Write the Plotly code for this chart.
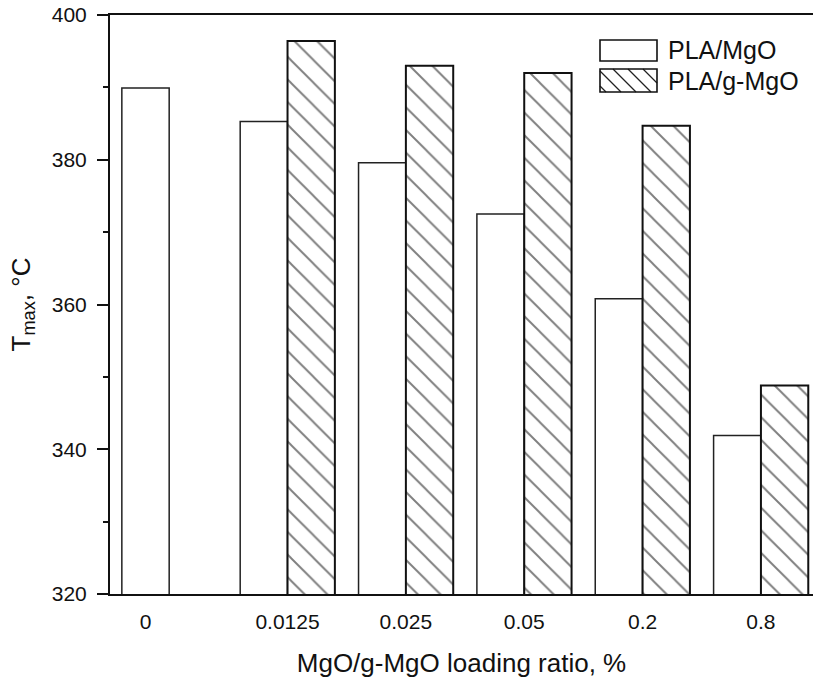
import plotly.graph_objects as go

# Loading ratios (%) and peak degradation temperatures (°C)
loading = ["0", "0.0125", "0.025", "0.05", "0.2", "0.8"]
pla_mgo = [389.9, 385.3, 379.6, 372.5, 360.8, 341.9]
pla_gmgo = [None, 396.4, 393.0, 392.0, 384.7, 348.8]

W, H = 813, 682
M_L, M_R, M_T, M_B = 110, 0, 15, 88
FONT = "Liberation Sans, Arial, sans-serif"
BAR_W = 0.4

pos = list(range(len(loading)))
# a category with only one bar gets its label under that bar
tick_pos = [p - BAR_W / 2 if g is None else p for p, g in zip(pos, pla_gmgo)]

fig = go.Figure()
fig.add_trace(go.Bar(
    x=pos, y=pla_mgo, name="PLA/MgO", width=BAR_W, offset=-BAR_W,
    marker=dict(color="white", line=dict(color="#222", width=1.5)),
    showlegend=False,
))
fig.add_trace(go.Bar(
    x=pos, y=pla_gmgo, name="PLA/g-MgO", width=BAR_W, offset=0,
    marker=dict(color="white", line=dict(color="#111", width=2),
                pattern=dict(shape="\\", size=16, solidity=0.12,
                             fgcolor="#000", bgcolor="white")),
    showlegend=False,
))

# ---- hand-drawn legend (pixel positions converted to paper units) ----
PW = W - M_L - M_R
PH = H - M_T - M_B


def px(x):
    return (x - M_L) / PW


def py(y):
    return (H - M_B - y) / PH


shapes = []
boxes = [(600, 40, 657, 61, "PLA/MgO", False),
         (600, 69, 657, 92, "PLA/g-MgO", True)]
annotations = []
for x0, y0, x1, y1, label, hatched in boxes:
    if hatched:
        step = 15
        hgt = y1 - y0
        c = x0 - hgt + 6
        while c < x1:
            t0 = max(0, x0 - c)
            t1 = min(hgt, x1 - c)
            if t1 > t0:
                shapes.append(dict(type="line", xref="paper", yref="paper",
                                   x0=px(c + t0), y0=py(y0 + t0),
                                   x1=px(c + t1), y1=py(y0 + t1),
                                   line=dict(color="#222", width=1.2)))
            c += step
    shapes.append(dict(type="rect", xref="paper", yref="paper",
                       x0=px(x0), y0=py(y0), x1=px(x1), y1=py(y1),
                       line=dict(color="#111", width=1.6)))
    annotations.append(dict(text=label, xref="paper", yref="paper",
                            x=px(x1 + 9), y=py((y0 + y1) / 2),
                            xanchor="left", yanchor="middle", showarrow=False,
                            font=dict(family=FONT, size=25, color="#111")))

fig.update_layout(
    width=W, height=H,
    margin=dict(l=M_L, r=M_R, t=M_T, b=M_B, pad=0),
    paper_bgcolor="white", plot_bgcolor="white",
    font=dict(family=FONT, color="#111"),
    barmode="overlay",
    shapes=shapes, annotations=annotations,
    xaxis=dict(
        range=[-0.5, 5.44], tickvals=tick_pos, ticktext=loading,
        ticks="", showgrid=False, zeroline=False,
        showline=True, linecolor="#111", linewidth=2, mirror=True,
        tickfont=dict(family=FONT, size=21, color="#111"),
        ticklabelstandoff=8,
        title=dict(text="MgO/g-MgO loading ratio, %", standoff=22,
                   font=dict(family=FONT, size=26, color="#111")),
    ),
    yaxis=dict(
        range=[320, 400], dtick=20, tick0=320,
        ticks="outside", ticklen=11, tickwidth=1.6, tickcolor="#111",
        minor=dict(dtick=10, ticks="outside", ticklen=5, tickwidth=1.6,
                   tickcolor="#111", showgrid=False),
        showgrid=False, zeroline=False,
        showline=True, linecolor="#111", linewidth=2,
        tickfont=dict(family=FONT, size=21, color="#111"),
        ticklabelstandoff=6,
        title=dict(text="T<sub>max</sub>, °C", standoff=14,
                   font=dict(family=FONT, size=26, color="#111")),
    ),
)

fig.write_html("out.html")
